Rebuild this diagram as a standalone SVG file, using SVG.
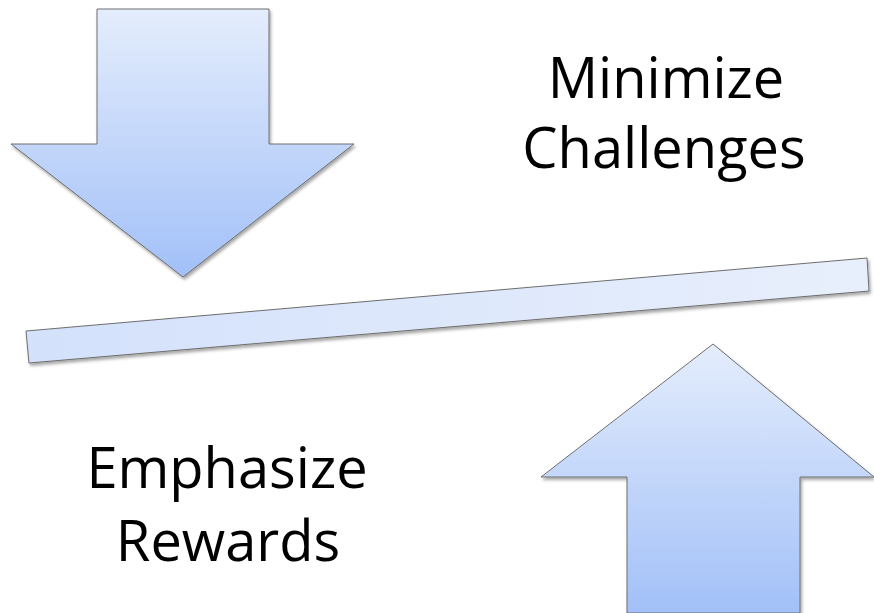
<svg xmlns="http://www.w3.org/2000/svg" width="874" height="613" viewBox="0 0 874 613">
  <defs>
    <linearGradient id="arrowGrad" x1="0" y1="0" x2="0" y2="1">
      <stop offset="0" stop-color="#e4edfc"/>
      <stop offset="1" stop-color="#a2c0f8"/>
    </linearGradient>
    <linearGradient id="barGrad" x1="0" y1="0" x2="1" y2="0">
      <stop offset="0" stop-color="#d3e1fb"/>
      <stop offset="1" stop-color="#e8effc"/>
    </linearGradient>
    <filter id="shadow" x="-10%" y="-10%" width="120%" height="130%">
      <feDropShadow dx="1.5" dy="2.5" stdDeviation="1.5" flood-color="#000" flood-opacity="0.35"/>
    </filter>
  </defs>
  <style>
    .shape { stroke: #6e6e6e; stroke-width: 1; stroke-linejoin: miter; filter: url(#shadow); }
    .arrow { fill: url(#arrowGrad); }
    .bar { fill: url(#barGrad); }
    .label { font-family: "Open Sans", "Liberation Sans", sans-serif; font-size: 56px; fill: #000; text-anchor: middle; }
  </style>
  <rect width="874" height="613" fill="#ffffff"/>
  <g id="down-arrow">
    <polygon class="shape arrow" points="97,9 269,9 269,144 354,144 183,277 11,144 97,144"/>
  </g>
  <g id="bar">
    <polygon class="shape bar" points="26,331 867,258 869,291 29,363"/>
  </g>
  <g id="up-arrow">
    <polygon class="shape arrow" points="713,344 874,477 800,477 800,613 627,613 627,477 541,477"/>
  </g>
  <g id="minimize-challenges">
    <text class="label" x="666" y="98">Minimize</text>
    <text class="label" x="664" y="168">Challenges</text>
  </g>
  <g id="emphasize-rewards">
    <text class="label" x="227" y="488">Emphasize</text>
    <text class="label" x="228" y="561">Rewards</text>
  </g>
  <g id="connectors"/>
</svg>
